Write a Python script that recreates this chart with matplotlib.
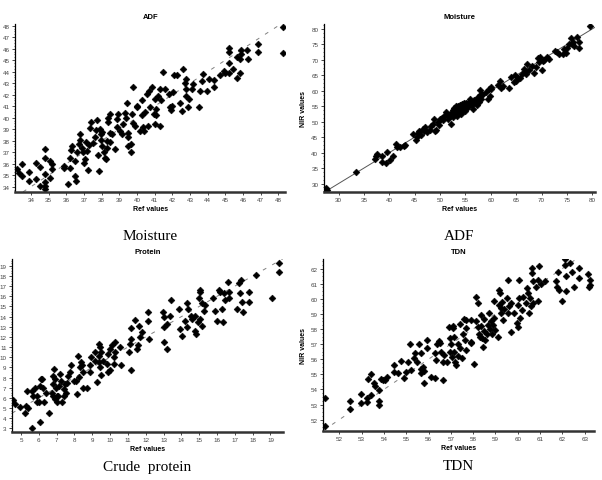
"""NIR vs reference scatter panels."""

import matplotlib

matplotlib.use("Agg")
import matplotlib.pyplot as plt
from matplotlib.ticker import AutoMinorLocator

# ---- ADF panel (captioned "Moisture" in the source figure)
adf_ref = [33.2, 33.3, 33.5, 33.5, 33.9, 33.9, 34.3, 34.3, 34.5, 34.5, 34.8, 34.8, 34.8, 34.8, 34.8, 34.8,
           35.1, 35.2, 35.1, 35.2, 35.87, 35.87, 36.1, 36.2, 36.25, 36.2, 36.5, 36.5, 36.55, 36.6, 36.7,
           36.75, 36.8, 36.9, 36.95, 37.0, 37.05, 37.25, 37.2, 37.3, 37.35, 37.4, 37.5, 37.6, 37.75, 37.8,
           37.85, 37.9, 37.95, 37.95, 38.05, 38.15, 38.2, 38.25, 38.3, 38.35, 38.35, 38.45, 38.45, 38.45,
           38.3, 38.75, 38.85, 38.85, 38.95, 39.05, 39.15, 39.2, 39.3, 39.4, 39.45, 39.5, 39.5, 39.5, 39.65,
           39.65, 39.7, 39.75, 39.8, 40.0, 40.0, 40.15, 40.3, 40.3, 40.35, 40.4, 40.45, 40.55, 40.65, 40.7,
           40.75, 40.85, 40.95, 41.0, 41.0, 41.1, 41.1, 41.2, 41.3, 41.3, 41.35, 41.5, 41.6, 41.8, 41.85,
           41.9, 42.0, 42.05, 42.1, 42.25, 42.45, 42.55, 42.6, 42.7, 42.75, 42.75, 42.8, 42.9, 42.95, 43.1,
           43.2, 43.5, 43.55, 43.7, 43.75, 43.95, 44.1, 44.35, 44.35, 44.7, 44.9, 45.0, 45.2, 45.2, 45.2,
           45.2, 45.45, 45.65, 45.65, 45.85, 45.9, 45.9, 45.85, 46.25, 46.3, 46.85, 46.85, 48.25, 48.25,
           36.3, 37.7, 38.6, 39.9, 37.1, 38.0]
adf_nir = [35.5, 35.2, 34.9, 36.0, 35.3, 34.5, 36.1, 34.7, 35.7, 34.1, 35.1, 34.4, 34.1, 33.8, 36.5, 37.3,
           36.2, 36.0, 34.8, 35.5, 35.8, 35.6, 34.2, 36.5, 37.2, 35.65, 36.2, 34.9, 34.5, 37.0, 37.7,
           38.55, 38.1, 37.4, 37.0, 36.1, 36.4, 35.45, 37.1, 37.6, 39.1, 39.6, 37.8, 38.3, 39.8, 36.8,
           35.35, 39.0, 38.55, 38.1, 37.55, 37.0, 36.5, 36.4, 37.95, 39.6, 40.0, 40.3, 38.7, 37.85,
           37.4, 37.25, 39.15, 39.9, 40.3, 38.85, 38.55, 39.45, 40.45, 40.0, 41.3, 38.7, 38.3, 37.55, 37.7,
           37.0, 40.3, 39.55, 42.7, 40.9, 41.05, 38.85, 40.2, 41.5, 39.15, 38.85, 40.5, 42.05, 39.3, 42.35,
           40.9, 42.65, 40.3, 41.6, 39.45, 40.75, 40.2, 41.9, 42.5, 39.3, 41.5, 44.0, 42.5, 42.05, 40.9,
           40.65, 41.05, 42.25, 43.7, 43.7, 41.3, 40.6, 44.2, 43.05, 43.35, 42.5, 41.9, 40.9, 41.6, 42.5,
           42.9, 40.9, 42.35, 43.2, 43.8, 42.35, 43.35, 43.3, 42.7, 43.7, 44.05, 43.9, 46.05, 45.75, 44.8,
           43.9, 44.25, 45.25, 43.45, 45.1, 45.85, 45.55, 43.9, 45.9, 45.1, 46.4, 45.7, 47.85, 45.65,
           37.55, 38.9, 38.6, 39.3, 37.9, 38.8]

# ---- Moisture panel (captioned "ADF")
moist_ref = [27.6, 27.5, 27.8, 33.5, 37.2, 37.4, 37.6, 38.5, 38.6, 39.4, 39.5, 40.2, 40.8, 41.3, 41.6, 42.2,
             42.9, 43.0, 44.6, 45.3, 45.5, 45.6, 45.9, 46.3, 46.6, 47.0, 48.1, 48.3, 48.8, 49.0, 49.2, 49.5,
             50.3, 50.8, 51.2, 51.6, 52.0, 52.2, 52.5, 52.8, 53.0, 53.2, 53.5, 53.8, 54.0, 54.2, 54.4, 54.7,
             55.0, 55.2, 55.6, 55.9, 56.2, 56.5, 56.8, 57.2, 57.5, 57.8, 58.0, 58.3, 59.0, 59.4, 59.6, 60.0,
             61.8, 62.0, 62.4, 63.5, 64.0, 64.5, 65.0, 65.3, 66.2, 66.5, 66.8, 67.2, 67.5, 68.5, 69.0, 69.3,
             69.6, 70.0, 70.5, 71.0, 71.5, 73.0, 73.5, 74.3, 74.5, 75.0, 75.5, 75.8, 76.0, 76.5, 77.0, 77.4,
             77.4, 79.6, 52.6, 52.9, 53.1, 53.3, 53.6, 53.9, 54.1, 54.3, 54.6, 54.8, 55.1, 55.4, 55.7, 56.0,
             56.3, 56.6, 57.0, 57.3, 57.6, 57.9, 58.2, 52.4, 51.9, 51.4, 50.6, 50.0, 49.7, 47.5, 48.6, 46.9,
             60.1, 59.8, 61.5, 64.8, 65.8, 67.0, 68.2, 69.8, 70.2, 72.6, 74.8, 76.2]
moist_nir = [28.5, 27.8, 28.0, 33.6, 38.0, 38.8, 39.5, 37.0, 38.9, 36.5, 40.3, 37.7, 39.0, 42.8, 41.8, 41.9,
             42.1, 42.6, 46.1, 44.0, 45.0, 46.5, 47.0, 45.8, 47.5, 48.4, 47.3, 48.5, 51.0, 46.9, 47.4, 50.0,
             51.2, 51.8, 53.0, 51.0, 52.2, 49.4, 51.6, 54.5, 53.3, 55.0, 54.0, 53.0, 55.5, 52.5, 54.2, 55.0,
             53.6, 56.0, 54.8, 57.3, 55.5, 54.2, 56.5, 55.5, 58.0, 60.2, 57.2, 58.6, 59.6, 57.2, 60.5, 61.2,
             63.1, 61.0, 61.5, 60.9, 64.4, 62.8, 63.2, 64.0, 65.4, 67.0, 66.0, 68.6, 66.6, 65.8, 67.8, 70.7,
             69.3, 66.8, 70.0, 70.8, 70.2, 72.5, 72.0, 72.0, 73.5, 74.0, 75.2, 77.0, 75.0, 74.6, 77.3, 74.0,
             75.8, 81.0, 53.8, 52.6, 54.3, 52.0, 55.2, 54.6, 53.2, 55.8, 53.9, 56.2, 54.4, 55.3, 56.0, 56.8,
             56.2, 57.0, 56.0, 57.3, 56.5, 58.5, 59.0, 53.0, 51.8, 52.3, 50.5, 50.8, 49.0, 46.8, 49.2, 47.0,
             60.5, 58.4, 62.0, 65.0, 64.0, 65.5, 68.0, 71.0, 69.5, 73.0, 72.3, 75.8]

# ---- Protein panel (captioned "Crude protein")
prot_ref = [16.1, 16.15, 15.8, 15.9, 16.0, 16.3, 16.35, 16.4, 16.45, 16.6, 16.7, 16.7, 17.15, 17.25, 17.35,
            17.3, 17.4, 17.45, 17.8, 17.8, 18.2, 19.1, 19.5, 19.5,
            15.05, 15.05, 15.0, 15.15, 15.25, 15.3, 15.05, 15.15, 14.95, 14.75, 14.8, 14.75, 14.6, 14.4,
            14.3, 14.55, 14.2, 14.3, 13.95, 14.05, 13.85, 13.4, 13.35, 12.95, 13.05, 13.0, 13.0, 13.2, 13.2,
            12.15, 12.15, 12.2, 11.8, 11.7, 11.65, 11.55, 11.5, 11.4, 11.2, 11.15, 11.1, 11.05, 11.2,
            10.55, 10.6, 10.3, 10.25, 10.2, 10.1, 10.0, 10.0, 10.2, 9.9, 9.85, 9.9,
            9.6, 9.5, 9.45, 9.4, 9.4, 9.4, 9.45, 9.5, 9.25, 9.15, 9.15, 8.95, 8.9, 8.85, 8.7, 8.5, 8.5,
            8.4, 8.35, 8.2, 8.25, 8.1, 8.15, 8.3,
            7.95, 7.8, 7.75, 7.65, 7.6, 7.55, 7.4, 7.4, 7.25, 7.2, 7.15, 7.1, 7.05, 7.0, 6.95, 6.9, 6.85,
            6.8, 6.8, 6.75, 6.9, 7.3, 7.45, 6.8,
            6.6, 6.4, 6.25, 6.2, 6.1, 6.05, 6.0, 5.9, 5.9, 5.8, 5.65, 5.6, 5.35, 5.4, 5.3, 5.2, 4.95, 4.65,
            4.55, 5.6, 6.05, 6.3]
prot_nir = [16.6, 16.4, 15.8, 14.6, 13.6, 14.8, 13.5, 16.3, 15.6, 17.4, 16.4, 15.8, 14.8, 17.3, 17.6,
            16.3, 15.4, 14.45, 16.4, 15.4, 18.1, 15.8, 19.3, 18.35,
            16.6, 16.4, 15.8, 15.3, 14.6, 15.1, 13.8, 13.1, 13.5, 12.6, 12.3, 14.1, 13.8, 14.8,
            15.3, 14.1, 13.6, 13.0, 12.8, 12.1, 14.8, 15.6, 14.1, 14.5, 14.0, 13.0, 11.5, 10.8, 13.3,
            14.5, 13.6, 11.8, 12.5, 12.0, 13.1, 11.2, 10.8, 13.7, 11.8, 12.9, 11.3, 10.5, 8.7,
            11.0, 9.2, 11.5, 10.5, 10.0, 11.2, 10.8, 8.7, 9.35, 8.5, 9.3, 10.3,
            9.65, 10.5, 11.0, 11.3, 10.15, 9.5, 9.0, 8.25, 7.6, 10.5, 9.65, 10.0, 8.5, 9.2, 7.0, 7.0, 8.5,
            9.2, 9.5, 10.15, 8.1, 7.7, 6.4, 9.0,
            7.7, 9.2, 8.5, 8.2, 7.5, 6.5, 6.85, 6.2, 7.7, 8.35, 7.2, 6.2, 5.55, 6.2, 7.0, 7.85, 8.8,
            8.2, 6.2, 6.5, 5.9, 5.55, 7.35, 7.35,
            4.55, 6.5, 7.0, 7.85, 7.85, 7.2, 5.55, 5.55, 6.2, 6.95, 6.2, 6.7, 6.7, 5.05, 5.2, 4.55, 5.15, 5.4,
            5.8, 3.0, 3.6, 5.6]

# ---- TDN panel (captioned "TDN")
tdn_ref = [51.35, 51.35, 52.5, 52.5, 52.95, 52.95, 53.25, 53.25, 53.3, 53.4, 53.4, 53.55, 53.6, 53.8, 53.8,
           53.8, 53.85, 53.95, 54.05, 54.15, 54.45, 54.45, 54.65, 54.75, 54.9, 55.0, 55.1, 55.15, 55.2,
           55.35, 55.4, 55.5, 55.55, 55.65, 55.65, 55.65, 55.75, 55.8, 55.8, 55.95, 55.95, 56.1, 56.3, 56.3,
           56.35, 56.4, 56.45, 56.5, 56.55, 56.65, 56.65, 56.7, 56.85,
           56.9, 56.95, 56.95, 57.0, 57.05, 57.1, 57.1, 57.15, 57.15, 57.2, 57.25, 57.3, 57.3, 57.4, 57.4,
           57.5, 57.55, 57.6, 57.65, 57.7, 57.7, 57.7, 57.9, 57.9, 57.9, 58.05,
           58.15, 58.2, 58.15, 58.2, 58.25, 58.3, 58.35, 58.35, 58.4, 58.45, 58.5, 58.5, 58.55, 58.6, 58.65,
           58.7, 58.75, 58.8, 58.85, 58.9, 58.95, 58.95, 59.0, 59.1, 59.15, 59.15, 59.2, 59.25, 59.25, 59.3,
           59.35, 59.4, 59.5, 59.55, 59.55, 59.6, 59.7, 59.7, 59.85, 59.95, 60.0, 60.0, 60.05, 60.05, 60.1,
           60.2, 60.25, 60.35, 60.4, 60.45, 60.5, 60.55, 60.6, 60.65, 60.65, 60.7, 60.7, 60.8, 60.9, 60.9,
           60.95, 61.05, 61.2,
           61.7, 61.75, 61.8, 61.85, 62.0, 62.1, 62.1, 62.15, 62.15, 62.35, 62.45, 62.5, 62.75, 62.75,
           63.15, 63.25, 63.25, 63.2]
tdn_nir = [53.4, 51.55, 53.25, 52.7, 53.7, 53.1, 53.4, 53.15, 54.7, 55.0, 53.65, 54.4, 54.25, 53.95, 53.2,
           53.0, 54.7, 54.6, 54.6, 54.8, 55.6, 55.15, 55.1, 55.85, 54.75, 55.15, 55.8, 57.0, 55.3,
           56.1, 56.4, 55.8, 57.0, 56.4, 55.35, 55.1, 55.45, 54.4, 55.25, 57.25, 56.75, 54.8, 54.75, 56.4,
           55.95, 57.0, 57.2, 57.05, 56.5, 55.8, 54.6, 56.3, 55.8,
           58.15, 56.5, 57.4, 57.0, 56.15, 58.2, 58.05, 57.5, 56.5, 55.8, 55.6, 56.2, 57.0, 58.3, 56.75,
           56.1, 57.7, 58.65, 57.25, 58.05, 58.6, 56.6, 57.15, 58.6, 57.05, 55.7,
           60.1, 59.7, 58.5, 58.1, 57.7, 57.5, 58.95, 58.2, 57.4, 56.8, 58.65, 57.85, 57.25, 57.7, 58.25,
           59.05, 58.0, 58.5, 57.7, 58.25, 59.85, 58.7, 57.95, 57.5, 59.6, 60.55, 60.4, 59.4, 59.05, 59.8,
           58.6, 59.35, 60.05, 61.25, 59.05, 59.5, 57.8, 59.7, 59.05, 58.4, 58.15, 59.6, 60.05, 61.25, 58.7,
           59.25, 60.15, 59.7, 60.7, 60.4, 59.05, 60.05, 59.5, 62.05, 61.7, 61.15, 59.7, 60.75, 59.85, 61.25,
           62.2, 60.95, 61.15,
           61.15, 60.75, 61.8, 60.6, 59.85, 62.6, 62.25, 61.5, 60.5, 62.35, 61.8, 60.75, 62.05, 61.4,
           61.65, 61.25, 60.9, 60.8]

panels = [
    dict(title="ADF", caption="Moisture", x=adf_ref, y=adf_nir, xlim=(33.1, 48.4), ylim=(33.55, 48.15),
         xticks=range(34, 49), yticks=range(34, 49), line="--", ylabel=True, cap_y=-0.262,
         rect=[0.025, 0.599, 0.449, 0.349]),
    dict(title="Moisture", caption="ADF", x=moist_ref, y=moist_nir, xlim=(27.1, 80.5), ylim=(27.3, 81.6),
         xticks=range(30, 81, 5), yticks=range(30, 81, 5), line="-", ylabel=True, cap_y=-0.262,
         rect=[0.538, 0.599, 0.450, 0.349]),
    dict(title="Protein", caption="Crude  protein", x=prot_ref, y=prot_nir, xlim=(4.5, 19.7),
         ylim=(2.65, 19.7), xticks=range(5, 20), yticks=range(3, 20), line="--", ylabel=False, cap_y=-0.2,
         rect=[0.020, 0.100, 0.450, 0.360]),
    dict(title="TDN", caption="TDN", x=tdn_ref, y=tdn_nir, xlim=(51.28, 63.4), ylim=(51.25, 62.65),
         xticks=range(52, 64), yticks=range(52, 63), line="--", ylabel=True, cap_y=-0.2,
         rect=[0.537, 0.102, 0.449, 0.358]),
]

plt.rcParams["font.family"] = ["Liberation Sans", "DejaVu Sans"]

fig = plt.figure(figsize=(6.02, 4.81), dpi=100)

for p in panels:
    ax = fig.add_axes(p["rect"])
    lo = max(p["xlim"][0], p["ylim"][0])
    hi = min(p["xlim"][1], p["ylim"][1])
    if p["line"] == "--":
        ax.plot([lo, hi], [lo, hi], color="#808080", lw=0.7, dashes=(4, 7), zorder=1)
    else:
        ax.plot([lo, hi], [lo, hi], color="#555555", lw=0.7, zorder=1)
    ax.scatter(p["x"], p["y"], marker="D", s=12, color="black", edgecolors="black", linewidths=0.4, zorder=2)
    ax.set_xlim(*p["xlim"])
    ax.set_ylim(*p["ylim"])
    ax.set_xticks(list(p["xticks"]))
    ax.set_yticks(list(p["yticks"]))
    ax.yaxis.set_minor_locator(AutoMinorLocator(4))
    ax.tick_params(axis="both", labelsize=4.5, labelcolor="#444444", length=2, width=0.5, pad=2)
    ax.tick_params(axis="y", which="minor", length=1, width=0.4)
    ax.spines["top"].set_visible(False)
    ax.spines["right"].set_visible(False)
    ax.spines["left"].set_linewidth(0.9)
    ax.spines["bottom"].set_linewidth(1.8)
    ax.spines["bottom"].set_color("#333333")
    ax.set_title(p["title"], fontsize=5.5, fontweight="bold", pad=4)
    ax.set_xlabel("Ref values", fontsize=5, fontweight="bold", labelpad=2)
    if p["ylabel"]:
        ax.set_ylabel("NIR values", fontsize=5, fontweight="bold", labelpad=3)
    ax.text(0.5, p["cap_y"], p["caption"], transform=ax.transAxes, ha="center", va="center",
            fontsize=11, family=["Liberation Serif", "DejaVu Serif"])

fig.savefig("out.png", dpi=100)
plt.close(fig)
